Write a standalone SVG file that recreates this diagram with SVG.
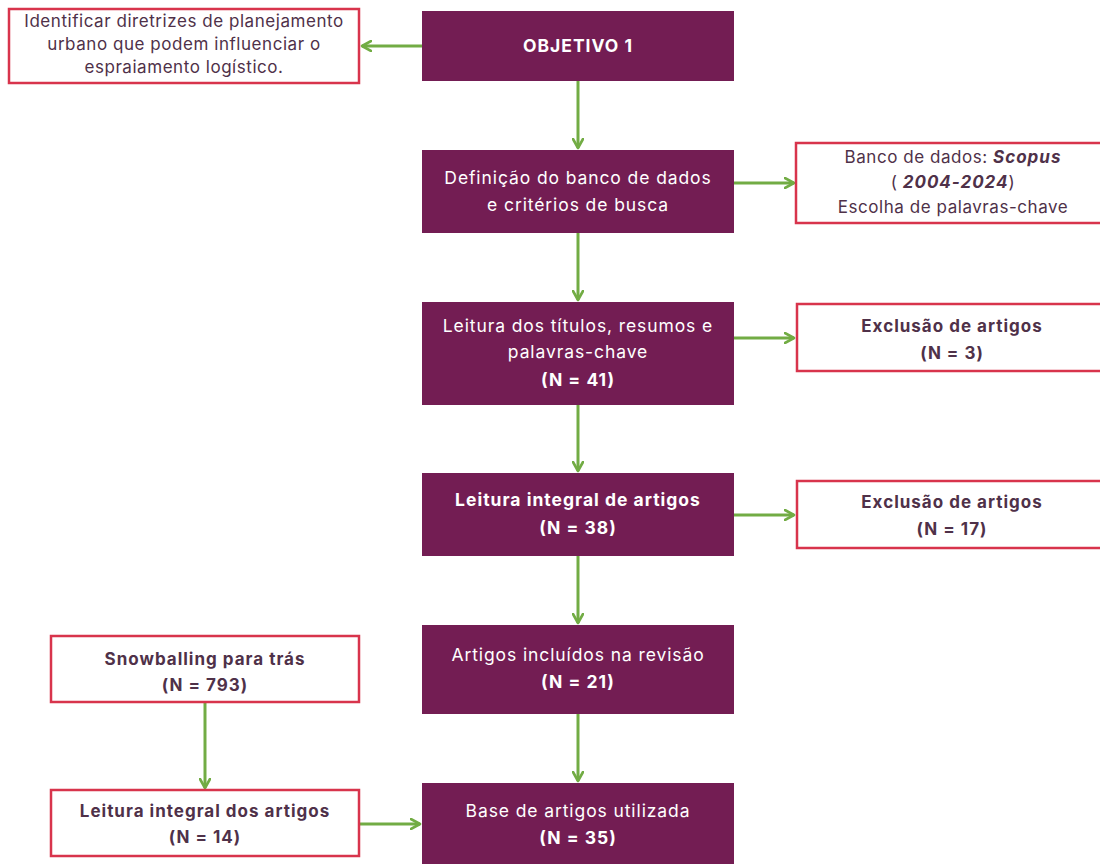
<svg xmlns="http://www.w3.org/2000/svg" width="1100" height="864" viewBox="0 0 1100 864">
<defs>
<marker id="ah" viewBox="0 0 12 12" refX="10" refY="6" markerWidth="12" markerHeight="12" markerUnits="userSpaceOnUse" orient="auto">
<path d="M1,1 L10,6 L1,11" fill="none" stroke="#72ac44" stroke-width="2.6" stroke-linecap="round" stroke-linejoin="round"/>
</marker>
<style>
.p{fill:#731d53;}
.w{fill:#ffffff;stroke:#d8344c;stroke-width:2.5;}
.tw{fill:#ffffff;font-family:Inter,"Noto Sans",sans-serif;font-size:17.5px;letter-spacing:0.9px;text-anchor:middle;}
.td{fill:#4f3149;font-family:Inter,"Noto Sans",sans-serif;font-size:17px;letter-spacing:0.55px;text-anchor:middle;}
.b{font-weight:700;letter-spacing:1px;}
.c{fill:none;stroke:#72ac44;stroke-width:3;marker-end:url(#ah);}
</style>
</defs>
<rect width="1100" height="864" fill="#ffffff"/>
<g id="connectors">
<line class="c" x1="422" y1="46" x2="362" y2="46"/>
<line class="c" x1="578" y1="81" x2="578" y2="148"/>
<line class="c" x1="734" y1="183" x2="794" y2="183"/>
<line class="c" x1="578" y1="233" x2="578" y2="300"/>
<line class="c" x1="734" y1="338" x2="794" y2="338"/>
<line class="c" x1="578" y1="405" x2="578" y2="471"/>
<line class="c" x1="734" y1="515" x2="794" y2="515"/>
<line class="c" x1="578" y1="556" x2="578" y2="623"/>
<line class="c" x1="578" y1="714" x2="578" y2="781"/>
<line class="c" x1="205" y1="702" x2="205" y2="788"/>
<line class="c" x1="359" y1="824" x2="420" y2="824"/>
</g>
<g id="n-goal">
<rect class="w" x="9" y="9" width="350" height="74"/>
<text class="td" x="184" y="27">Identificar diretrizes de  planejamento</text>
<text class="td" x="184" y="50">urbano que podem influenciar o</text>
<text class="td" x="184" y="73">espraiamento logístico.</text>
</g>
<g id="n-obj">
<rect class="p" x="422" y="11" width="312" height="70"/>
<text class="tw b" x="578" y="52" font-size="15.5">OBJETIVO 1</text>
</g>
<g id="n-def">
<rect class="p" x="422" y="150" width="312" height="83"/>
<text class="tw" x="578" y="184">Definição do banco de dados</text>
<text class="tw" x="578" y="211">e critérios de busca</text>
</g>
<g id="n-scopus">
<rect class="w" x="796" y="143" width="310" height="80"/>
<text class="td" x="953" y="163">Banco de dados: <tspan class="b" font-style="italic">Scopus</tspan></text>
<text class="td" x="953" y="188">( <tspan class="b" font-style="italic">2004-2024</tspan>)</text>
<text class="td" x="953" y="213">Escolha de palavras-chave</text>
</g>
<g id="n-leit1">
<rect class="p" x="422" y="302" width="312" height="103"/>
<text class="tw" x="578" y="332">Leitura dos títulos, resumos e</text>
<text class="tw" x="578" y="358">palavras-chave</text>
<text class="tw b" x="578" y="386">(N = 41)</text>
</g>
<g id="n-exc1">
<rect class="w" x="797" y="304" width="310" height="67"/>
<text class="td b" x="952" y="332">Exclusão de artigos</text>
<text class="td b" x="952" y="359">(N = 3)</text>
</g>
<g id="n-leit2">
<rect class="p" x="422" y="473" width="312" height="83"/>
<text class="tw b" x="578" y="506">Leitura integral de artigos</text>
<text class="tw b" x="578" y="534">(N = 38)</text>
</g>
<g id="n-exc2">
<rect class="w" x="797" y="481" width="310" height="67"/>
<text class="td b" x="952" y="508">Exclusão de artigos</text>
<text class="td b" x="952" y="535">(N = 17)</text>
</g>
<g id="n-incl">
<rect class="p" x="422" y="625" width="312" height="89"/>
<text class="tw" x="578" y="661">Artigos incluídos na revisão</text>
<text class="tw b" x="578" y="688">(N = 21)</text>
</g>
<g id="n-snow">
<rect class="w" x="51" y="636" width="308" height="66"/>
<text class="td b" x="205" y="665">Snowballing para trás</text>
<text class="td b" x="205" y="691">(N = 793)</text>
</g>
<g id="n-leit3">
<rect class="w" x="51" y="790" width="308" height="66"/>
<text class="td b" x="205" y="817">Leitura integral dos artigos</text>
<text class="td b" x="205" y="843">(N = 14)</text>
</g>
<g id="n-base">
<rect class="p" x="422" y="783" width="312" height="90"/>
<text class="tw" x="578" y="817">Base de artigos utilizada</text>
<text class="tw b" x="578" y="844">(N = 35)</text>
</g>
</svg>
